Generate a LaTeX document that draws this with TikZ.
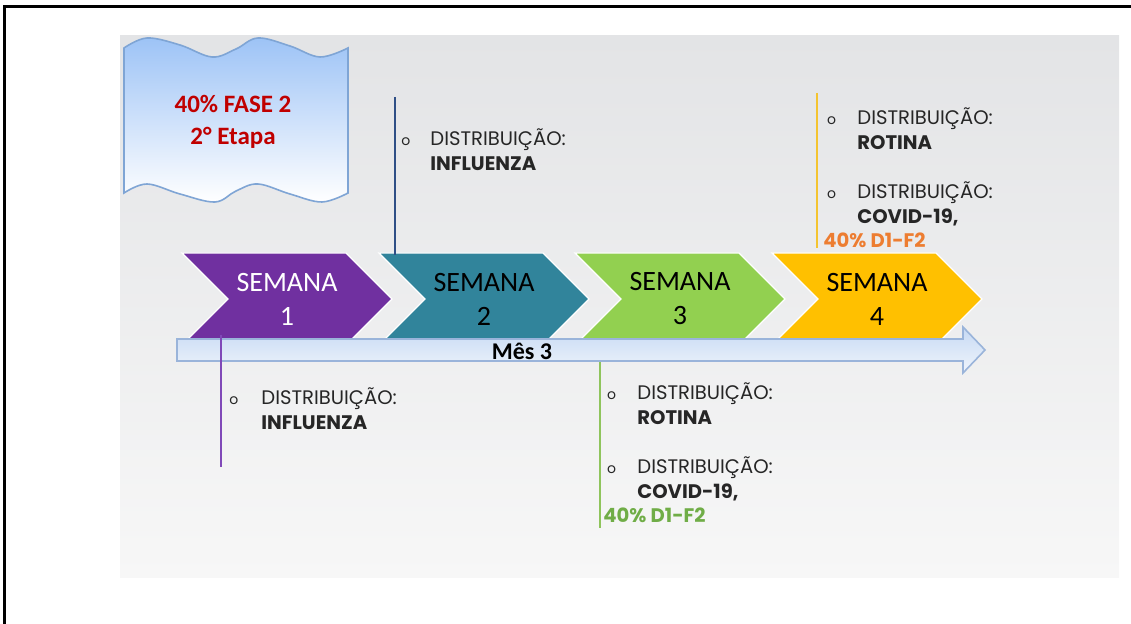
\documentclass[tikz,border=0pt]{standalone}
\usepackage{fontspec}
\setmainfont{Carlito}
\newfontfamily\gothic{Poppins}
\usetikzlibrary{shapes.symbols,positioning}

\definecolor{semanaA}{HTML}{7030A0}
\definecolor{semanaB}{HTML}{31849B}
\definecolor{semanaC}{HTML}{92D050}
\definecolor{semanaD}{HTML}{FFC000}
\definecolor{lineA}{HTML}{8049B8}
\definecolor{lineB}{HTML}{2F4F86}
\definecolor{lineC}{HTML}{8FC45C}
\definecolor{lineD}{HTML}{F4C430}
\definecolor{faseRed}{HTML}{C00000}
\definecolor{doseGreen}{HTML}{70AD47}
\definecolor{doseOrange}{HTML}{ED7D31}
\definecolor{bannerTop}{HTML}{9DC3F6}
\definecolor{bannerLine}{HTML}{7FA5D5}
\definecolor{mesTop}{HTML}{C6D9F3}
\definecolor{mesBottom}{HTML}{F0F5FC}
\definecolor{mesLine}{HTML}{9AB4DA}
\definecolor{panelTop}{HTML}{E3E4E6}
\definecolor{panelBottom}{HTML}{F7F7F7}

\tikzstyle{week} = [shape=signal,
                    signal from=west,
                    signal to=east,
                    signal pointer angle=90,
                    minimum width=105pt,
                    minimum height=46pt,
                    inner sep=0pt,
                    align=center,
                    font=\fontsize{14}{17}\selectfont,
                    draw=white,
                    line width=0.6pt]
\tikzstyle{info} = [anchor=north west,
                    inner sep=0pt,
                    text=black!85,
                    font=\gothic\fontsize{9.8}{12.3}\selectfont]
\tikzstyle{tick} = [line width=1.4pt]

\begin{document}
\begin{tikzpicture}[x=0.5pt, y=-0.5pt]
    \useasboundingbox (0,0) rectangle (1131,624);
    % frame and panel
    \draw[line width=1.5pt] (1131,6.5) -- (4.5,6.5) -- (4.5,624);
    \shade[top color=panelTop, bottom color=panelBottom] (120,36) rectangle (1119,578);

    % banner
    \filldraw[top color=bannerTop, bottom color=white, draw=bannerLine, line width=0.8pt]
      plot[smooth, tension=0.6] coordinates {(124,48) (147,38) (180,45) (212,57) (236,49) (258,38) (290,46) (320,57) (348,48)}
      -- plot[smooth, tension=0.6] coordinates {(348,193) (322,202) (290,194) (258,184) (236,191) (215,202) (180,194) (147,184) (124,193)}
      -- cycle;
    \node (fase) at (233,122) [align=center, text=faseRed,
      font=\bfseries\fontsize{12.5}{16}\selectfont] {40\% FASE 2\\2° Etapa};

    % weeks
    \node (w1) at (287,299) [week, fill=semanaA, text=white] {SEMANA\\1};
    \node (w2) at (484,299) [week, fill=semanaB] {SEMANA\\2};
    \node (w3) at (680,299) [week, fill=semanaC] {SEMANA\\3};
    \node (w4) at (877,299) [week, fill=semanaD] {SEMANA\\4};

    % timeline arrow
    \filldraw[top color=mesTop, bottom color=mesBottom, draw=mesLine, line width=0.8pt]
      (177,339) -- (963,339) -- (963,327) -- (985,350) -- (963,373) -- (963,361) -- (177,361) -- cycle;
    \node (mes) at (522,351) [font=\bfseries\fontsize{12}{14}\selectfont] {Mês 3};

    % markers
    \coordinate (a1) at (221,335);
    \coordinate (a2) at (221,467);
    \coordinate (b1) at (395,97);
    \coordinate (b2) at (395,255);
    \coordinate (c1) at (600,362);
    \coordinate (c2) at (600,528);
    \coordinate (d1) at (817,93);
    \coordinate (d2) at (817,248);
    \draw[tick, lineA] (a1) -- (a2);
    \draw[tick, lineB] (b1) -- (b2);
    \draw[tick, lineC] (c1) -- (c2);
    \draw[tick, lineD] (d1) -- (d2);

    % notes
    \node (n1) at (229,387) [info] {\begin{tabular}{@{}p{16pt}@{}l@{}}
      {\fontsize{7}{12}\selectfont o} & DISTRIBUIÇÃO:\\
      & \textbf{INFLUENZA}
    \end{tabular}};
    \node (n2) at (401,128) [info] {\begin{tabular}{@{}p{14.5pt}@{}l@{}}
      {\fontsize{7}{12}\selectfont o} & DISTRIBUIÇÃO:\\
      & \textbf{INFLUENZA}
    \end{tabular}};
    \node (n3) at (603,382) [info] {\begin{tabular}{@{}p{17pt}@{}l@{}}
      {\fontsize{7}{12}\selectfont\ o} & DISTRIBUIÇÃO:\\
      & \textbf{ROTINA}\\
      & \\
      {\fontsize{7}{12}\selectfont\ o} & DISTRIBUIÇÃO:\\
      & \textbf{COVID-19,}\\
      \multicolumn{2}{@{}l@{}}{\textcolor{doseGreen}{\textbf{40\% D1-F2}}}
    \end{tabular}};
    \node (n4) at (823,107) [info] {\begin{tabular}{@{}p{17pt}@{}l@{}}
      {\fontsize{7}{12}\selectfont\ o} & DISTRIBUIÇÃO:\\
      & \textbf{ROTINA}\\
      & \\
      {\fontsize{7}{12}\selectfont\ o} & DISTRIBUIÇÃO:\\
      & \textbf{COVID-19,}\\
      \multicolumn{2}{@{}l@{}}{\textcolor{doseOrange}{\textbf{40\% D1-F2}}}
    \end{tabular}};
\end{tikzpicture}
\end{document}
